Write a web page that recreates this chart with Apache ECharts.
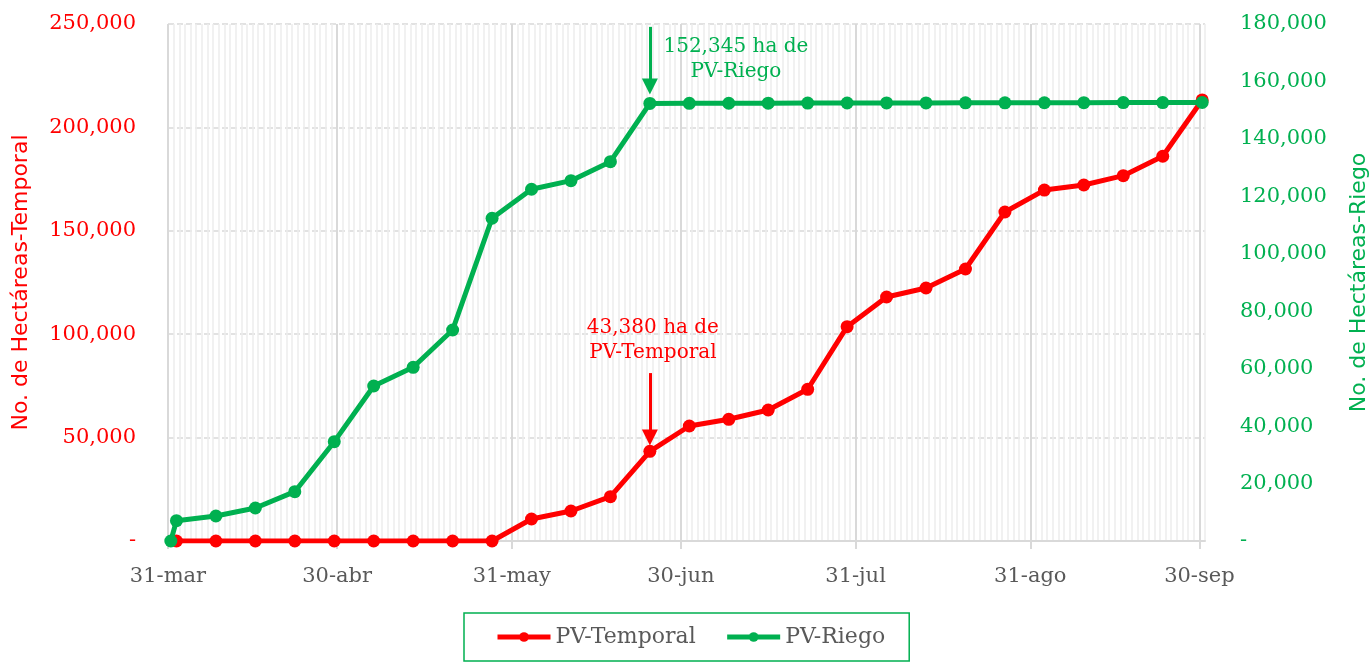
<!DOCTYPE html>
<html>
<head>
<meta charset="utf-8">
<script src="https://cdn.jsdelivr.net/npm/echarts@6/dist/echarts.min.js"></script>
<style>html,body{margin:0;padding:0;background:#fff}#chart{width:1369px;height:662px}</style>
</head>
<body>
<div id="chart"></div>
<script>
// ---------- data ----------
const axisStart = '2023-03-31';
const axisEnd = '2023-10-01';
const tickDates = ['2023-03-31','2023-04-30','2023-05-31','2023-06-30','2023-07-31','2023-08-31','2023-09-30'];
const monthNames = ['ene','feb','mar','abr','may','jun','jul','ago','sep','oct','nov','dic'];

const temporalDates = ['2023-04-01','2023-04-08','2023-04-15','2023-04-22','2023-04-29','2023-05-06','2023-05-13','2023-05-20','2023-05-27','2023-06-03','2023-06-10','2023-06-17','2023-06-24','2023-07-01','2023-07-08','2023-07-15','2023-07-22','2023-07-29','2023-08-05','2023-08-12','2023-08-19','2023-08-26','2023-09-02','2023-09-09','2023-09-16','2023-09-23','2023-09-30'];
const temporalValues = [0,0,0,0,0,0,0,0,0,10640,14510,21420,43380,55600,58850,63350,73360,103640,118000,122350,131540,159100,169700,172160,176660,186040,213270];

const riegoDates = ['2023-03-31','2023-04-01','2023-04-08','2023-04-15','2023-04-22','2023-04-29','2023-05-06','2023-05-13','2023-05-20','2023-05-27','2023-06-03','2023-06-10','2023-06-17','2023-06-24','2023-07-01','2023-07-08','2023-07-15','2023-07-22','2023-07-29','2023-08-05','2023-08-12','2023-08-19','2023-08-26','2023-09-02','2023-09-09','2023-09-16','2023-09-23','2023-09-30'];
const riegoValues = [0,7070,8700,11490,17170,34580,53970,60480,73470,112360,122460,125460,132080,152345,152380,152410,152440,152470,152490,152510,152530,152550,152570,152590,152610,152630,152650,152700];

const leftTicks = {min:0, max:250000, interval:50000};
const rightTicks = {min:0, max:180000, interval:20000};

const annotDate = '2023-06-24';
const riegoNote = '152,345 ha de\nPV-Riego';
const temporalNote = '43,380 ha de\nPV-Temporal';

// ---------- helpers ----------
const DAY = 86400000;
function ts(s) { const p = s.split('-').map(Number); return Date.UTC(p[0], p[1]-1, p[2]); }
const t0 = ts(axisStart);
const dayOf = s => Math.round((ts(s) - t0) / DAY);          // day boundary (tick position)
const slot = s => dayOf(s) + 0.5;                            // Excel date axis: point at centre of its day slot
const nDays = dayOf(axisEnd);
const fmtNum = v => v === 0 ? '-' : v.toLocaleString('en-US');
const fmtDate = v => { const d = new Date(t0 + Math.round(v) * DAY); return d.getUTCDate() + '-' + monthNames[d.getUTCMonth()]; };

const RED = '#ff0000', GREEN = '#00b050', GREY = '#595959';
const SERIF = 'DejaVu Serif', SANS = 'DejaVu Sans';

const chart = echarts.init(document.getElementById('chart'), null, {renderer:'canvas'});
chart.setOption({
  animation: false,
  backgroundColor: '#fff',
  grid: {left:168, right:164, top:24, bottom:121, containLabel:false, outerBoundsMode:'none'},
  legend: {
    left: 464, top: 613,
    padding: [13, 24, 13, 31],
    itemGap: 29, itemWidth: 53, itemHeight: 12,
    borderColor: GREEN, borderWidth: 1.5,
    lineStyle: {width: 5},
    textStyle: {fontFamily: SERIF, fontSize: 22, color: GREY},
    data: ['PV-Temporal', 'PV-Riego']
  },
  xAxis: [
    { // daily minor grid
      type: 'value', min: 0, max: nDays, interval: 1, position: 'bottom',
      axisLabel: {show:false}, axisTick: {show:false}, axisLine: {show:false},
      splitLine: {show:true, lineStyle:{color:'#ededed', width:1.5}}
    },
    {
      type: 'value', min: 0, max: nDays, position: 'bottom',
      axisLine: {show:true, onZero:false, lineStyle:{color:'#d9d9d9', width:2}},
      axisTick: {show:true, customValues: tickDates.map(dayOf), length: 8, lineStyle:{color:'#d9d9d9', width:2}},
      axisLabel: {customValues: tickDates.map(dayOf), formatter: fmtDate, color: GREY, fontFamily: SERIF, fontSize: 21, margin: 25},
      splitLine: {show:true, lineStyle:{color:'#d9d9d9', width:2}}
    }
  ],
  yAxis: [
    {
      type: 'value', min: leftTicks.min, max: leftTicks.max, interval: leftTicks.interval,
      position: 'left',
      name: 'No. de Hectáreas-Temporal', nameLocation: 'middle', nameRotate: 90, nameGap: 136,
      nameTextStyle: {color: RED, fontFamily: SANS, fontSize: 22},
      axisLine: {show:false}, axisTick: {show:false},
      axisLabel: {formatter: fmtNum, color: RED, fontFamily: SERIF, fontSize: 21, margin: 32},
      splitLine: {show:true, lineStyle:{color:'#d9d9d9', width:1.5, type:[6,3]}}
    },
    {
      type: 'value', min: rightTicks.min, max: rightTicks.max, interval: rightTicks.interval,
      position: 'right',
      name: 'No. de Hectáreas-Riego', nameLocation: 'middle', nameRotate: 90, nameGap: 143,
      nameTextStyle: {color: GREEN, fontFamily: SANS, fontSize: 22},
      axisLine: {show:false}, axisTick: {show:false},
      axisLabel: {formatter: fmtNum, color: GREEN, fontFamily: SERIF, fontSize: 21, margin: 35},
      splitLine: {show:false}
    }
  ],
  series: [
    {
      name: 'PV-Temporal', type: 'line', xAxisIndex: 1, yAxisIndex: 0,
      data: temporalDates.map((d, i) => [slot(d), temporalValues[i]]),
      symbol: 'circle', symbolSize: 13, showAllSymbol: true,
      lineStyle: {color: RED, width: 5}, itemStyle: {color: RED},
      z: 3,
      markLine: {
        silent: true, symbol: ['none','triangle'], symbolSize: 16,
        label: {show:false},
        lineStyle: {color: RED, width: 3, type: 'solid'},
        data: [[{coord: [slot(annotDate), 81200]}, {coord: [slot(annotDate), 50000]}]]
      },
      markPoint: {
        silent: true, symbol: 'circle', symbolSize: 0,
        label: {show:true, formatter: temporalNote, color: RED, fontFamily: SERIF, fontSize: 20, lineHeight: 25, align:'center', verticalAlign:'middle', offset:[3, 0]},
        data: [{coord: [slot(annotDate), 96950]}]
      }
    },
    {
      name: 'PV-Riego', type: 'line', xAxisIndex: 1, yAxisIndex: 1,
      data: riegoDates.map((d, i) => [slot(d), riegoValues[i]]),
      symbol: 'circle', symbolSize: 13, showAllSymbol: true,
      lineStyle: {color: GREEN, width: 5}, itemStyle: {color: GREEN},
      z: 4,
      markLine: {
        silent: true, symbol: ['none','triangle'], symbolSize: 16,
        label: {show:false},
        lineStyle: {color: GREEN, width: 3, type: 'solid'},
        data: [[{coord: [slot(annotDate), 179000]}, {coord: [slot(annotDate), 158200]}]]
      },
      markPoint: {
        silent: true, symbol: 'circle', symbolSize: 0,
        label: {show:true, formatter: riegoNote, color: GREEN, fontFamily: SERIF, fontSize: 20, lineHeight: 25, align:'center', verticalAlign:'middle', offset:[86, 0]},
        data: [{coord: [slot(annotDate), 167830]}]
      }
    }
  ]
});
</script>
</body>
</html>
